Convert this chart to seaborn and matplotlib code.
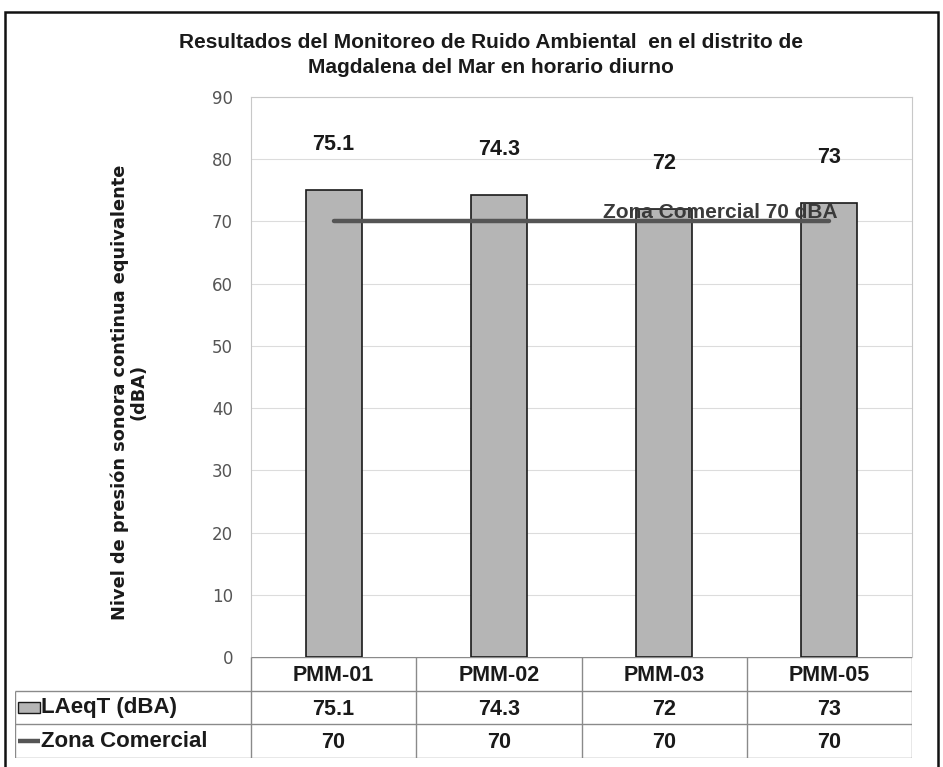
import matplotlib.pyplot as plt
import matplotlib.patches as mpatches
import pandas as pd
import seaborn as sns

estaciones = ["PMM-01", "PMM-02", "PMM-03", "PMM-05"]
laeqt = [75.1, 74.3, 72, 73]
zona_comercial = [70, 70, 70, 70]
y_ticks = [0, 10, 20, 30, 40, 50, 60, 70, 80, 90]
fila_barras = "LAeqT (dBA)"
fila_linea = "Zona Comercial"

sns.set_theme(style="white")
plt.rcParams["font.family"] = ["DejaVu Sans"]
NARROW = ["Liberation Sans Narrow", "Liberation Sans", "DejaVu Sans"]

W, H = 943, 767


def box(x0, y0, x1, y1):
    # pixel box (top-left origin) -> figure fraction rect
    return [x0 / W, 1 - y1 / H, (x1 - x0) / W, (y1 - y0) / H]


fig = plt.figure(figsize=(W / 100, H / 100), dpi=100)

# grafico principal
ax = fig.add_axes(box(251, 97, 912, 657))
df = pd.DataFrame({"estacion": estaciones, "laeqt": laeqt, "zona": zona_comercial})
sns.barplot(data=df, x="estacion", y="laeqt", color="#b5b5b5", saturation=1,
            edgecolor="#1a1a1a", linewidth=1.2, width=0.34, ax=ax, zorder=3)
sns.lineplot(data=df, x="estacion", y="zona", color="#555555", linewidth=3.2,
             ax=ax, zorder=4)
ax.bar_label(ax.containers[0], labels=[f"{v:g}" for v in laeqt], padding=25,
             fontsize=15.5, fontweight="bold", color="#1a1a1a", family=NARROW)
ax.text(2.34, zona_comercial[-1] + 1.5, "Zona Comercial 70 dBA", ha="center",
        va="center", fontsize=15, fontweight="bold", color="#3a3a3a",
        family=NARROW, zorder=5)

ax.set_xlim(-0.5, 3.5)
ax.set_ylim(0, 90)
ax.set_yticks(y_ticks)
ax.tick_params(axis="y", labelsize=12, labelcolor="#555555", pad=13, length=0)
ax.set_xticks([])
ax.set_xlabel("")
ax.set_ylabel("")
ax.yaxis.grid(True, color="#dcdcdc", linewidth=0.8)
ax.set_axisbelow(True)
for side in ["left", "top", "right"]:
    ax.spines[side].set_color("#c8c8c8")
    ax.spines[side].set_linewidth(0.8)
ax.spines["bottom"].set_visible(False)

# tabla de datos
tab = fig.add_axes(box(15, 657, 912, 758))
x_left = -0.5 - (251 - 15) / ((912 - 251) / 4)
tab.set_xlim(x_left, 3.5)
tab.set_ylim(3, 0)
tab.axis("off")
n = len(estaciones)
lc = "#8a8a8a"
tab.hlines(0, -0.5, n - 0.5, color=lc, linewidth=1)
tab.hlines([1, 2, 3], x_left, n - 0.5, color=lc, linewidth=1)
tab.vlines([i - 0.5 for i in range(n + 1)], 0, 3, color=lc, linewidth=1)
tab.vlines(x_left, 1, 3, color=lc, linewidth=1)
tk = dict(ha="center", va="center", fontsize=15.5, fontweight="bold",
          color="#1a1a1a", family=NARROW)
for i, est in enumerate(estaciones):
    tab.text(i, 0.55, est, **tk)
    tab.text(i, 1.55, f"{laeqt[i]:g}", **tk)
    tab.text(i, 2.55, f"{zona_comercial[i]:g}", **tk)
tab.add_patch(mpatches.Rectangle((x_left + 0.02, 1.33), 0.13, 0.34,
                                 facecolor="#b5b5b5", edgecolor="#1a1a1a",
                                 linewidth=1))
tab.hlines(2.5, x_left + 0.02, x_left + 0.15, color="#555555", linewidth=3.2)
tab.text(x_left + 0.16, 1.5, fila_barras, ha="left", va="center", fontsize=16,
         fontweight="bold", color="#1a1a1a", family=NARROW)
tab.text(x_left + 0.16, 2.5, fila_linea, ha="left", va="center", fontsize=16,
         fontweight="bold", color="#1a1a1a", family=NARROW)

# titulos
fig.text(491 / W, 1 - 55 / H,
         "Resultados del Monitoreo de Ruido Ambiental  en el distrito de\n"
         "Magdalena del Mar en horario diurno",
         ha="center", va="center", fontsize=15, fontweight="bold",
         color="#1a1a1a", family=NARROW, linespacing=1.45)
fig.text(129 / W, 1 - 392 / H,
         "Nivel de presión sonora continua equivalente\n(dBA)",
         ha="center", va="center", rotation=90, fontsize=12.8,
         fontweight="bold", color="#1a1a1a", linespacing=1.1)

# marco exterior
fig.patches.append(mpatches.Rectangle((5 / W, -0.02), 933 / W, 1.02 - 12 / H,
                                      transform=fig.transFigure, fill=False,
                                      edgecolor="#111111", linewidth=1.8))

fig.savefig("out.png", dpi=100)
